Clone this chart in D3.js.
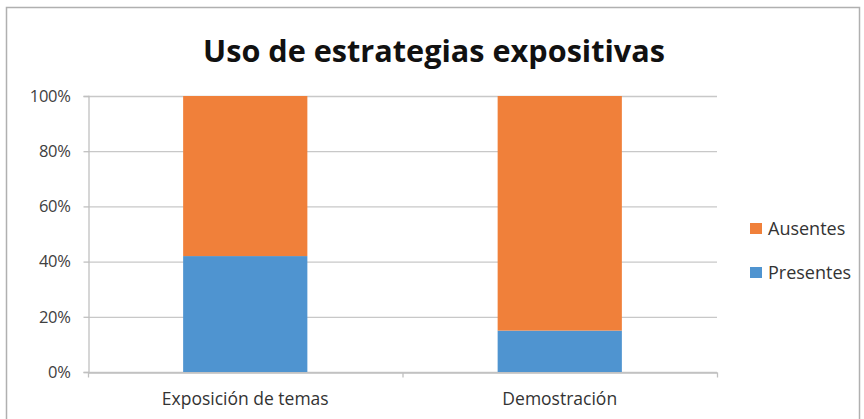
<!DOCTYPE html>
<html><head><meta charset="utf-8">
<script src="https://cdn.jsdelivr.net/npm/d3@7"></script>
<style>body{margin:0;background:#fff}svg{display:block}</style>
</head><body>
<svg id="c" width="864" height="419"></svg>
<script>
const categories = ["Exposición de temas", "Demostración"];
const presentes = [42, 15];
const ausentes = [58, 85];
const seriesNames = ["Presentes", "Ausentes"];
const seriesColors = ["#4F94D0", "#F0803A"];
const yTicks = [0, 20, 40, 60, 80, 100];
const title = "Uso de estrategias expositivas";

(function(){
const svg = d3.select("#c");
const font = "'Open Sans', 'Noto Sans', sans-serif";
// frame
svg.append("rect").attr("x",6.5).attr("y",7.5).attr("width",853).attr("height",420)
  .attr("fill","none").attr("stroke","#b0b0b0").attr("stroke-width",1.5);

const pl=88, pr=717, pt=96, pb=372;
const x = d3.scaleBand().domain(categories).range([pl,pr]).padding(0);
const y = d3.scaleLinear().domain([0,100]).range([pb,pt]);

// gridlines
svg.append("g").selectAll("line").data(yTicks).join("line")
  .attr("x1",pl).attr("x2",pr).attr("y1",d=>y(d)+0.5).attr("y2",d=>y(d)+0.5)
  .attr("stroke","#c8c8c8").attr("stroke-width",1.3);

// y axis
const ya = svg.append("g").attr("transform",`translate(${pl+0.5},0)`)
  .call(d3.axisLeft(y).tickValues(yTicks).tickFormat(d=>d+"%").tickSize(5).tickPadding(13));
ya.select(".domain").attr("stroke","#c0c0c0").attr("stroke-width",1.3);
ya.selectAll(".tick line").attr("stroke","#c0c0c0").attr("stroke-width",1.3);
ya.selectAll("text").attr("font-family",font).attr("font-size",16.5).attr("fill","#404040")
  .attr("letter-spacing",-0.3);

// x axis
const xa = svg.append("g").attr("transform",`translate(0,${pb+0.5})`)
  .call(d3.axisBottom(x).tickSize(0).tickPadding(20));
xa.select(".domain").attr("stroke","#c0c0c0").attr("stroke-width",1.3);
xa.selectAll("text").attr("font-family",font).attr("font-size",17.5).attr("fill","#333");
const bounds = [pl, pl + x.step(), pr];
xa.selectAll(".bt").data(bounds).join("line").attr("class","bt")
  .attr("x1",d=>d+0.5).attr("x2",d=>d+0.5).attr("y1",0).attr("y2",5)
  .attr("stroke","#c0c0c0").attr("stroke-width",1.3);

// bars
const stacked = d3.stack().keys([0,1])(categories.map((c,i)=>({cat:c,0:presentes[i],1:ausentes[i]})));
const bw = x.bandwidth()*0.395;
svg.append("g").selectAll("g").data(stacked).join("g").attr("fill",(d,i)=>seriesColors[i])
  .selectAll("rect").data(d=>d).join("rect")
  .attr("x",d=>x(d.data.cat)+x.bandwidth()/2-bw/2)
  .attr("width",bw)
  .attr("y",d=>y(d[1]))
  .attr("height",d=>y(d[0])-y(d[1]));

// title
svg.append("text").attr("x",434).attr("y",62).attr("text-anchor","middle")
  .attr("font-family",font).attr("font-weight","bold").attr("font-size",30).attr("fill","#111")
  .attr("textLength",462).attr("lengthAdjust","spacingAndGlyphs").text(title);

// legend
const legendOrder = [1,0];
const lg = svg.append("g");
legendOrder.forEach((si,k)=>{
  const ly = 229 + k*44;
  lg.append("rect").attr("x",750).attr("y",ly-6).attr("width",12).attr("height",11).attr("fill",seriesColors[si]);
  lg.append("text").attr("x",768).attr("y",ly+6).attr("font-family",font).attr("font-size",18)
    .attr("fill","#333").text(seriesNames[si]);
});
})();
</script>
</body></html>
